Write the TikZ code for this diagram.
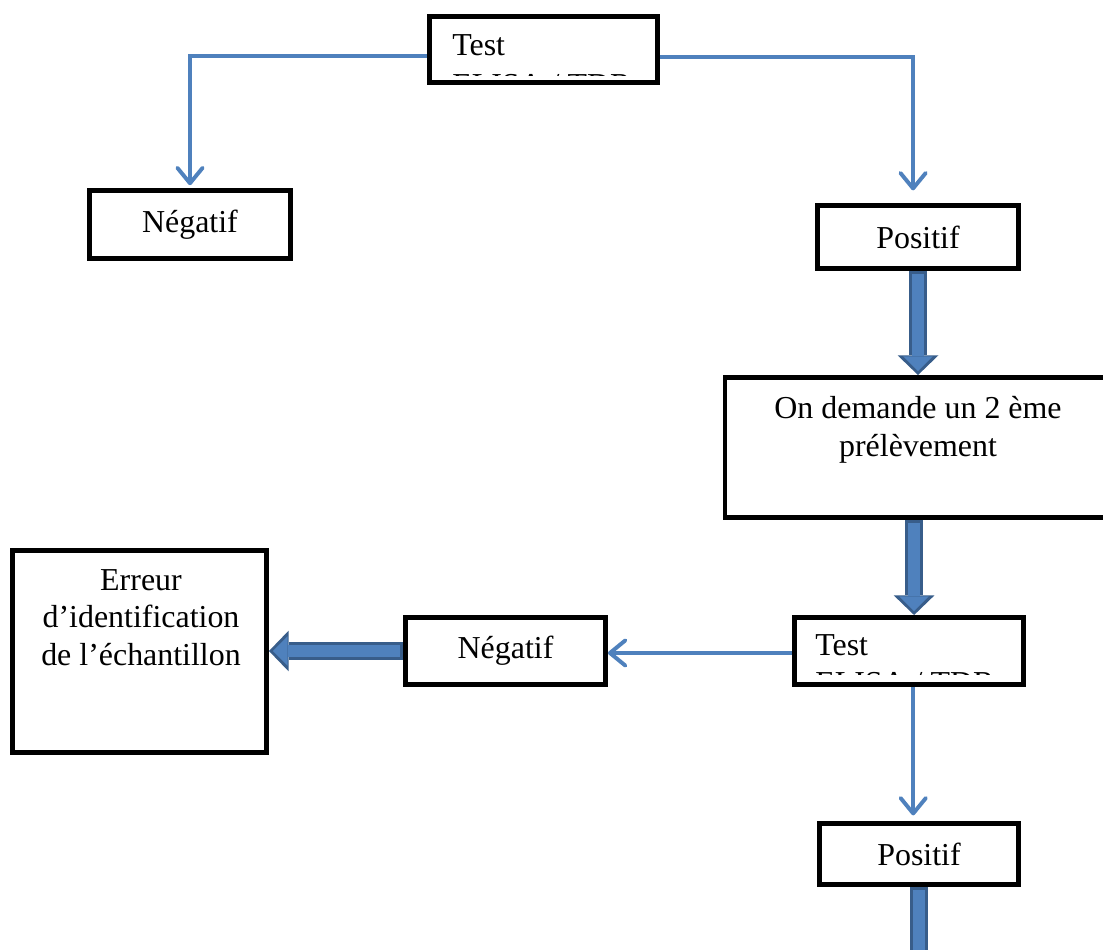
\documentclass[tikz,border=0pt]{standalone}
\usepackage{fontspec}
\setmainfont{Liberation Serif}
\usepackage{tikz}
\usetikzlibrary{arrows,arrows.meta}

\definecolor{lineblue}{RGB}{79,129,189}
\definecolor{edgeblue}{RGB}{56,93,138}
\newcommand{\pxu}{0.025cm}

\begin{document}
\begin{tikzpicture}[
x=0.025cm, y=-0.025cm,
font=\fontsize{22.7}{26.5}\selectfont,
box/.style={draw=black,line width=3.5pt,rectangle,inner sep=0pt,fill=white},
txt/.style={inner sep=0pt,align=center},
arrow/.style={draw=lineblue,line width=2.8pt,-{Straight Barb[length=11pt,width=18pt,round]}},
bigarrow/.style={draw=edgeblue,line width=13pt,-{Triangle[length=14pt,width=29pt,line width=0pt]},
  postaction={draw=lineblue,line width=8pt,shorten >=2.8pt,shorten <=2.2pt,-{Triangle[length=10.5pt,width=21pt,line width=0pt]}}} ]

\useasboundingbox (0,0) rectangle (1103,949);

\node[box,minimum width=228*\pxu,minimum height=66*\pxu](test1) at (543.5,49.5) {};

\node[box,minimum width=201*\pxu,minimum height=68*\pxu](neg1) at (190,224.5) {Négatif};

\node[box,minimum width=201*\pxu,minimum height=63*\pxu](pos1) at (918,237) {Positif};

\node[box,minimum width=388*\pxu,minimum height=140*\pxu](demande) at (919,447.5) {};

\node[box,minimum width=254*\pxu,minimum height=202*\pxu](erreur) at (139.5,651.5) {};

\node[box,minimum width=200*\pxu,minimum height=67*\pxu](neg2) at (505.5,651) {Négatif};

\node[box,minimum width=229*\pxu,minimum height=67*\pxu](test2) at (909,651) {};

\node[box,minimum width=199*\pxu,minimum height=61*\pxu](pos2) at (919,854) {Positif};

% texts of the boxes
\node[txt,anchor=base west](test1txt) at (452,55) {Test};
\begin{scope}
\clip (440,72) rectangle (650,75.5);
\node[txt,anchor=base west](test1sub) at (452,95) {ELISA / TDR};
\end{scope}

\node[txt,anchor=base west](test2txt) at (815,655) {Test};
\begin{scope}
\clip (800,670.5) rectangle (1015,674);
\node[txt,anchor=base west](test2sub) at (815,693) {ELISA / TDR};
\end{scope}

\node[txt,anchor=base](demandetxt) at (918,456) {On demande un 2 ème\\prélèvement};

\node[txt,anchor=base](erreurtxt) at (141,665) {Erreur\\d’identification\\de l’échantillon};

% connectors
\draw[arrow] ([yshift=-4.6pt]test1.west) -| ([yshift=2pt]neg1.north);

\draw[arrow] ([yshift=-5pt]test1.east) -| ([xshift=-3.5pt,yshift=9pt]pos1.north);

\draw[bigarrow] (pos1.south) -- (pos1.south |- demande.north);

\draw[bigarrow] ([xshift=-3.5pt]demande.south) -- ([xshift=-3.5pt]demande.south |- test2.north);

\draw[arrow] ([yshift=-1.4pt]test2.west) -- ([yshift=-1.4pt]test2.west -| neg2.east);

\draw[bigarrow] (neg2.west) -- (neg2.west -| erreur.east);

\draw[arrow] ([xshift=3pt]test2.south) -- ([xshift=3pt,yshift=4pt]test2.south |- pos2.north);

\draw[bigarrow] (pos2.south) -- ++(0,120);

\end{tikzpicture}
\end{document}
